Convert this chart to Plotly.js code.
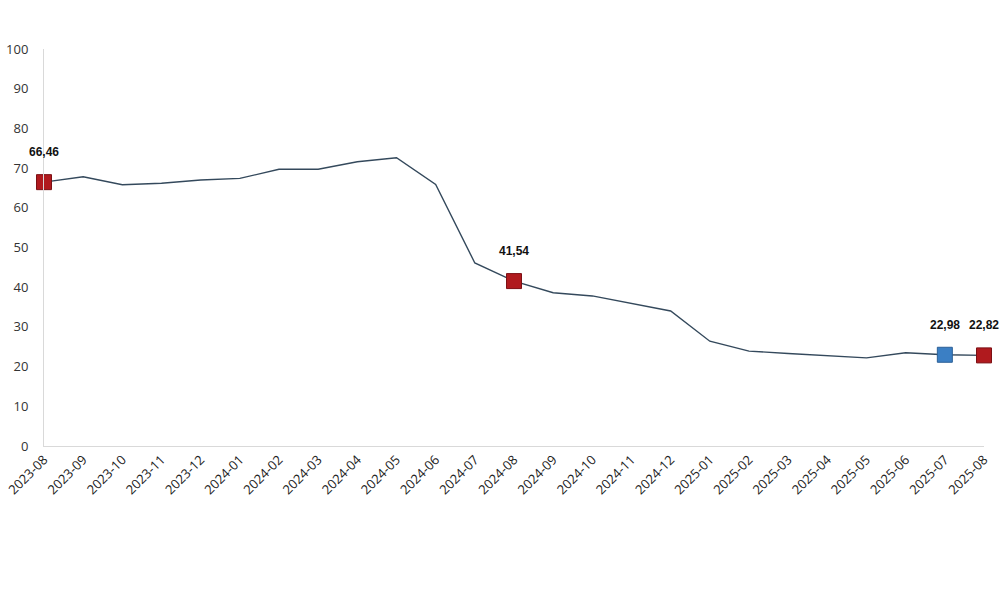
<!DOCTYPE html>
<html>
<head>
<meta charset="utf-8">
<script src="https://cdn.plot.ly/plotly-3.0.1.min.js"></script>
<style>
  html, body { margin: 0; padding: 0; background: #fff; }
  #chart { width: 1000px; height: 593px; }
</style>
</head>
<body>
<div id="chart"></div>
<script>
// ── data ──
const months = ['2023-08','2023-09','2023-10','2023-11','2023-12','2024-01','2024-02','2024-03',
                '2024-04','2024-05','2024-06','2024-07','2024-08','2024-09','2024-10','2024-11',
                '2024-12','2025-01','2025-02','2025-03','2025-04','2025-05','2025-06','2025-07','2025-08'];
const values = [66.46, 67.8, 65.8, 66.2, 67.0, 67.4, 69.7, 69.7, 71.6, 72.6, 65.9, 46.1, 41.54,
                38.6, 37.8, 35.9, 34.0, 26.4, 23.9, 23.3, 22.7, 22.2, 23.5, 22.98, 22.82];

// highlighted points (marker + value label)
const markMonths = ['2023-08', '2024-08', '2025-07', '2025-08'];
const markKinds  = ['red', 'red', 'blue', 'red'];

const yTicks = [0, 10, 20, 30, 40, 50, 60, 70, 80, 90, 100];

// ── build ──
const fill   = { red: '#b01a1e', blue: '#3b7fc4' };
const border = { red: '#7c1014', blue: '#2b5f96' };

const markY = markMonths.map(m => values[months.indexOf(m)]);
const fmt = v => v.toFixed(2).replace('.', ',');

const lineTrace = {
    type: 'scatter',
    mode: 'lines',
    x: months,
    y: values,
    line: { color: '#34495c', width: 1.4 },
    hoverinfo: 'x+y',
    cliponaxis: false,
};

const markTrace = {
    type: 'scatter',
    mode: 'markers',
    x: markMonths,
    y: markY,
    marker: {
        symbol: 'square',
        size: 15,
        color: markKinds.map(k => fill[k]),
        line: { color: markKinds.map(k => border[k]), width: 1 },
    },
    cliponaxis: false,
    hoverinfo: 'x+y',
};

const labels = markMonths.map((m, i) => ({
    x: m, y: markY[i],
    text: fmt(markY[i]),
    showarrow: false,
    yshift: 30,
    font: { family: 'Liberation Sans, Arial, sans-serif', size: 12, color: '#111', weight: 'bold' },
}));

const layout = {
    width: 1000,
    height: 593,
    margin: { l: 44, r: 16, t: 49, b: 147 },
    paper_bgcolor: '#fff',
    plot_bgcolor: '#fff',
    showlegend: false,
    font: { family: 'Open Sans, DejaVu Sans, sans-serif', size: 13, color: '#222' },
    xaxis: {
        type: 'category',
        range: [0, months.length - 1],
        tickangle: -45,
        showgrid: false,
        zeroline: false,
        showline: true,
        linecolor: '#d9d9d9',
        linewidth: 1,
        ticks: '',
        tickfont: { size: 13, color: '#222' },
        fixedrange: true,
    },
    yaxis: {
        range: [0, 100],
        tickvals: yTicks,
        showgrid: false,
        zeroline: false,
        showline: true,
        linecolor: '#d9d9d9',
        linewidth: 1,
        ticks: '',
        ticklabelstandoff: 12,
        tickfont: { size: 13, color: '#333' },
        fixedrange: true,
    },
    annotations: labels,
};

Plotly.newPlot('chart', [lineTrace, markTrace], layout, { displayModeBar: false, staticPlot: true });
</script>
</body>
</html>
